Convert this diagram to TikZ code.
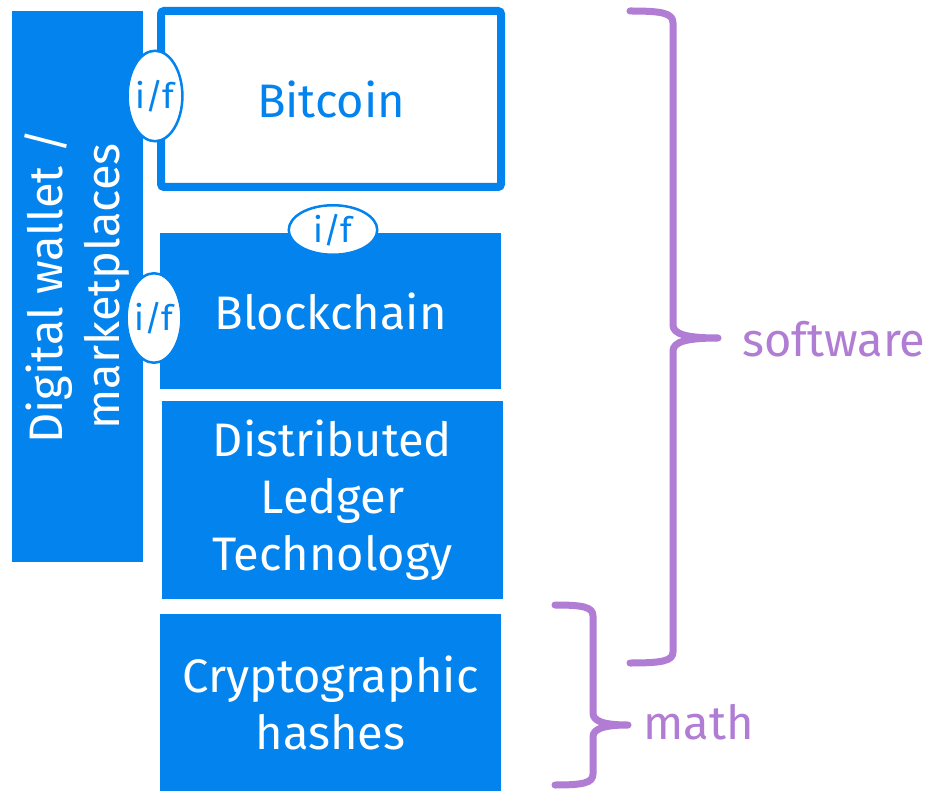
\documentclass[tikz,border=0pt]{standalone}
\usepackage{fontspec}
\setmainfont{Fira Sans}
\usetikzlibrary{shapes.geometric}
\definecolor{geblue}{RGB}{3,131,238}
\definecolor{bracepurple}{RGB}{176,124,212}
\begin{document}
\begin{tikzpicture}[x=1pt,y=-1pt,
  bigfont/.style={font=\fontsize{47}{57}\selectfont},
  layerbox/.style={rectangle, fill=geblue, draw=none, text=white, bigfont,
    align=center, inner sep=0pt, minimum width=341pt},
  openbox/.style={rectangle, fill=white, draw=geblue, line width=8pt,
    rounded corners=3pt, text=geblue, bigfont, align=center, inner sep=0pt},
  iface/.style={ellipse, fill=white, draw=geblue, line width=2.5pt,
    text=geblue, font=\fontsize{35}{38}\selectfont, inner sep=0pt},
  brace/.style={draw=bracepurple, line width=7pt, line cap=round, line join=round},
  bracelabel/.style={text=bracepurple, bigfont, inner sep=0pt, anchor=base west}]

  % canvas
  \fill[white] (0,0) rectangle (945,791);

  % side column for wallets and marketplaces
  \node[layerbox, rotate=90, minimum width=551pt, minimum height=131pt]
    (wallet) at (77,286.5) {Digital wallet /\\marketplaces};

  % stack of layers
  \node[openbox, minimum width=340pt, minimum height=176pt]
    (bitcoin) at (331,99) {Bitcoin};
  \node[layerbox, minimum height=156pt] (blockchain) at (330.5,311) {Blockchain};
  \node[layerbox, minimum height=198pt] (dlt) at (332.5,500)
    {Distributed\\Ledger\\Technology};
  \node[layerbox, minimum height=177pt] (crypto) at (330.5,702.5)
    {Cryptographic\\hashes};

  % interfaces between layers
  \node[iface, minimum width=53.5pt, minimum height=90.5pt] (ifbitcoin) at (155,96) {i/f};
  \node[iface, minimum width=88.5pt, minimum height=49.5pt] (ifstack) at (333,230) {i/f};
  \node[iface, minimum width=52.5pt, minimum height=89.5pt] (ifchain) at (154,318) {i/f};

  % grouping braces
  \draw[brace] (630,11) .. controls (662,11) and (673,13) .. (673,23)
    -- (673,325) .. controls (673,334) and (686,338) .. (718,338)
    .. controls (686,338) and (673,342) .. (673,351)
    -- (673,652) .. controls (673,661) and (662,663) .. (630,663);
  \draw[brace] (555,605) .. controls (583,605) and (593,607) .. (593,616)
    -- (593,713) .. controls (593,721) and (603,725) .. (628,725)
    .. controls (603,725) and (593,729) .. (593,737)
    -- (593,774) .. controls (593,783) and (583,785) .. (555,785);

  \node[bracelabel] (software) at (742,357) {software};
  \node[bracelabel] (math) at (643,739) {math};
\end{tikzpicture}
\end{document}
